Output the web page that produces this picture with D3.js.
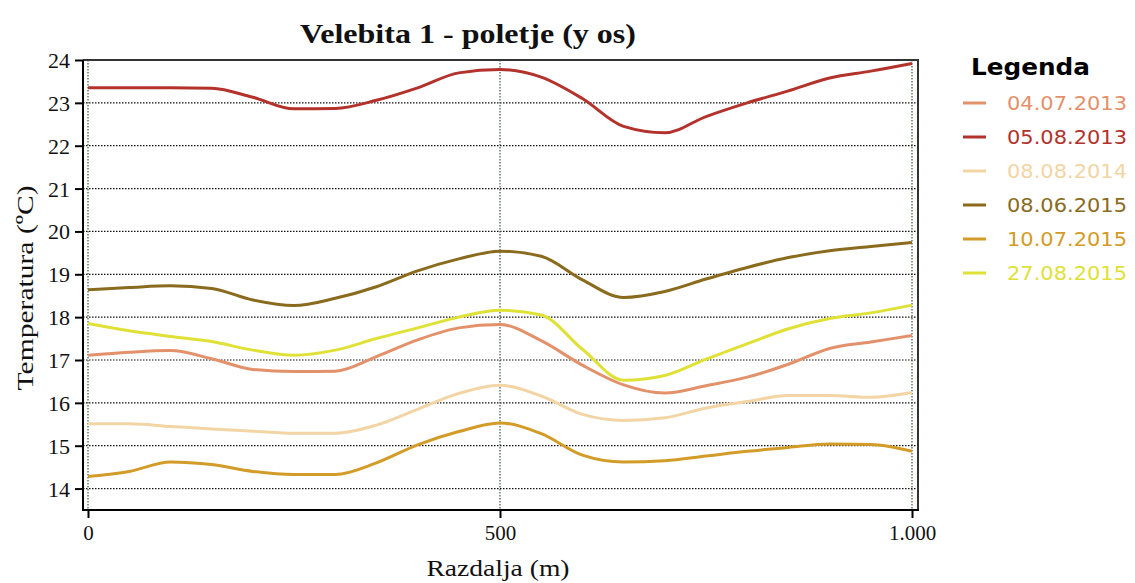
<!DOCTYPE html>
<html><head><meta charset="utf-8">
<script src="https://cdn.jsdelivr.net/npm/d3@7"></script>
<style>body{margin:0;background:#fff}svg{display:block}</style>
</head><body>
<svg id="c" width="1135" height="583"></svg>
<script>
const distances = [0,50,100,150,200,250,300,350,400,450,500,550,600,650,700,750,800,850,900,950,1000];
const seriesNames = ["04.07.2013","05.08.2013","08.08.2014","08.06.2015","10.07.2015","27.08.2015"];
const s040713 = [17.11,17.18,17.22,17.03,16.78,16.73,16.74,17.08,17.47,17.75,17.83,17.45,16.88,16.42,16.23,16.40,16.60,16.90,17.27,17.42,17.57];
const s050813 = [23.35,23.35,23.35,23.34,23.13,22.86,22.87,23.06,23.35,23.70,23.78,23.60,23.10,22.45,22.30,22.68,23.00,23.28,23.58,23.74,23.92];
const s080814 = [15.51,15.51,15.45,15.39,15.34,15.29,15.29,15.48,15.85,16.22,16.41,16.16,15.73,15.59,15.65,15.88,16.03,16.17,16.17,16.13,16.24];
const s080615 = [18.64,18.69,18.73,18.67,18.40,18.27,18.44,18.71,19.08,19.36,19.54,19.42,18.87,18.46,18.60,18.89,19.16,19.39,19.55,19.65,19.74];
const s100715 = [14.28,14.40,14.62,14.56,14.40,14.33,14.33,14.60,15.02,15.33,15.53,15.28,14.78,14.62,14.65,14.76,14.87,14.96,15.04,15.03,14.87];
const s270815 = [17.85,17.68,17.55,17.43,17.23,17.11,17.23,17.50,17.75,18.00,18.16,18.05,17.25,16.53,16.64,17.02,17.38,17.73,17.97,18.10,18.28];
const seriesValues = [s040713,s050813,s080814,s080615,s100715,s270815];
const colors = ["#e3916b","#b3322c","#f3d5a5","#8a6b1e","#d39b27","#dfe136"];
const yTicks = [14,15,16,17,18,19,20,21,22,23,24];
const xTicks = [0,500,1000];
const xTickLabels = ["0","500","1.000"];

const svg = d3.select("#c");
const x = d3.scaleLinear().domain([0,1000]).range([88,912]);
const y = d3.scaleLinear().domain([13.5,24]).range([510,60]);
const L=83,R=918,T=60,B=510;

// grid
svg.append("g").selectAll("line").data(yTicks).join("line")
  .attr("x1",L).attr("x2",R).attr("y1",d=>y(d)).attr("y2",d=>y(d))
  .attr("stroke","#111").attr("stroke-width",1.2).attr("stroke-dasharray","1.5,1.5");
svg.append("g").selectAll("line").data(xTicks).join("line")
  .attr("x1",d=>x(d)).attr("x2",d=>x(d)).attr("y1",T).attr("y2",B)
  .attr("stroke","#3d5a3d").attr("stroke-width",1.2).attr("stroke-dasharray","1.5,1.5");

// frame
svg.append("path").attr("d",`M${L},${T}H${R}V${B}`).attr("fill","none").attr("stroke","#333").attr("stroke-width",2);

// lines
const line = d3.line().x((d,i)=>x(distances[i])).y(d=>y(d)).curve(d3.curveMonotoneX);
seriesValues.forEach((vals,k)=>{
  svg.append("path").attr("d",line(vals)).attr("fill","none")
    .attr("stroke",colors[k]).attr("stroke-width",3).attr("stroke-linejoin","round");
});

// axes
const ya = svg.append("g").attr("transform",`translate(${L},0)`)
  .call(d3.axisLeft(y).tickValues(yTicks).tickSize(8).tickPadding(5));
ya.select(".domain").remove();
ya.append("line").attr("x1",0).attr("x2",0).attr("y1",T).attr("y2",B+1).attr("stroke","#000").attr("stroke-width",2);
ya.selectAll(".tick line").attr("stroke","#000").attr("stroke-width",2);
ya.selectAll(".tick text").attr("font-family","'Liberation Serif',serif").attr("font-size",22).attr("fill","#111").attr("dy","0.34em");

const xa = svg.append("g").attr("transform",`translate(0,${B})`)
  .call(d3.axisBottom(x).tickValues(xTicks).tickFormat((d,i)=>xTickLabels[i]).tickSize(8).tickPadding(7));
xa.select(".domain").remove();
xa.append("line").attr("x1",L-1).attr("x2",R+1).attr("y1",0).attr("y2",0).attr("stroke","#000").attr("stroke-width",2);
xa.selectAll(".tick line").attr("stroke","#000").attr("stroke-width",2);
xa.selectAll(".tick text").attr("font-family","'Liberation Serif',serif").attr("font-size",21).attr("fill","#111");

// titles
svg.append("text").attr("x",468).attr("y",43).attr("text-anchor","middle")
  .attr("font-family","'Liberation Serif',serif").attr("font-weight","bold").attr("font-size",27)
  .attr("textLength",336).attr("lengthAdjust","spacingAndGlyphs").attr("fill","#111")
  .text("Velebita 1 - poletje (y os)");
svg.append("text").attr("x",498).attr("y",576).attr("text-anchor","middle")
  .attr("font-family","'Liberation Serif',serif").attr("font-size",24)
  .attr("textLength",143).attr("lengthAdjust","spacingAndGlyphs").attr("fill","#111")
  .text("Razdalja (m)");
svg.append("text").attr("transform","translate(33,288) rotate(-90)").attr("text-anchor","middle")
  .attr("font-family","'Liberation Serif',serif").attr("font-size",24)
  .attr("textLength",205).attr("lengthAdjust","spacingAndGlyphs").attr("fill","#111")
  .text("Temperatura (ºC)");

// legend
svg.append("text").attr("x",971).attr("y",75)
  .attr("font-family","'DejaVu Sans',sans-serif").attr("font-weight","bold").attr("font-size",23)
  .attr("textLength",119).attr("lengthAdjust","spacingAndGlyphs").attr("fill","#000")
  .text("Legenda");
const lg = svg.append("g").selectAll("g").data(seriesNames).join("g")
  .attr("transform",(d,i)=>`translate(0,${103+34*i})`);
lg.append("line").attr("x1",963).attr("x2",986).attr("y1",0).attr("y2",0)
  .attr("stroke",(d,i)=>colors[i]).attr("stroke-width",3);
lg.append("text").attr("x",1007).attr("y",0).attr("dy","0.36em")
  .attr("font-family","'DejaVu Sans',sans-serif").attr("font-size",19)
  .attr("textLength",120).attr("lengthAdjust","spacingAndGlyphs")
  .attr("fill",(d,i)=>colors[i]).text(d=>d);
</script>
</body></html>
